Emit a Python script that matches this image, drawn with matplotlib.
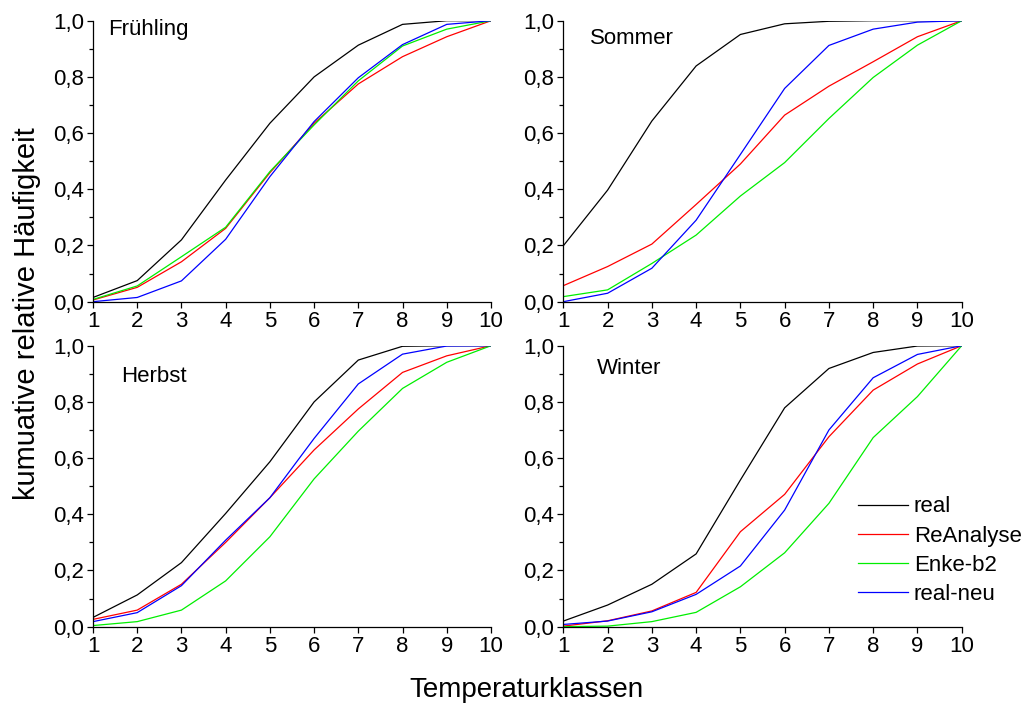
import matplotlib
matplotlib.use("Agg")
import matplotlib.pyplot as plt
from matplotlib.ticker import MultipleLocator, FuncFormatter

plt.rcParams['font.family'] = ['Liberation Sans', 'DejaVu Sans']

klassen = list(range(1, 11))
series_names = ["real", "ReAnalyse", "Enke-b2", "real-neu"]
colors = ["#000000", "#ff0000", "#00ee00", "#0000ff"]

fruehling = {
    "real":      [0.015, 0.075, 0.220, 0.433, 0.635, 0.800, 0.913, 0.987, 1.000, 1.000],
    "ReAnalyse": [0.006, 0.051, 0.142, 0.261, 0.459, 0.635, 0.775, 0.872, 0.943, 1.000],
    "Enke-b2":   [0.008, 0.056, 0.160, 0.265, 0.463, 0.629, 0.786, 0.910, 0.970, 1.000],
    "real-neu":  [0.000, 0.015, 0.074, 0.222, 0.445, 0.641, 0.797, 0.915, 0.987, 1.000],
}
sommer = {
    "real":      [0.199, 0.397, 0.643, 0.839, 0.951, 0.989, 0.998, 1.000, 1.000, 1.000],
    "ReAnalyse": [0.057, 0.125, 0.205, 0.346, 0.490, 0.664, 0.767, 0.854, 0.943, 1.000],
    "Enke-b2":   [0.018, 0.042, 0.136, 0.237, 0.376, 0.495, 0.652, 0.798, 0.913, 1.000],
    "real-neu":  [0.000, 0.030, 0.119, 0.290, 0.524, 0.759, 0.912, 0.970, 0.995, 1.000],
}
herbst = {
    "real":      [0.033, 0.113, 0.228, 0.403, 0.587, 0.800, 0.949, 0.998, 1.000, 1.000],
    "ReAnalyse": [0.026, 0.059, 0.151, 0.300, 0.459, 0.629, 0.775, 0.905, 0.964, 1.000],
    "Enke-b2":   [0.004, 0.018, 0.059, 0.163, 0.320, 0.526, 0.696, 0.848, 0.941, 1.000],
    "real-neu":  [0.018, 0.050, 0.146, 0.308, 0.459, 0.670, 0.864, 0.970, 0.999, 1.000],
}
winter = {
    "real":      [0.020, 0.077, 0.151, 0.259, 0.522, 0.779, 0.919, 0.976, 0.999, 1.000],
    "ReAnalyse": [0.002, 0.021, 0.056, 0.122, 0.338, 0.471, 0.676, 0.842, 0.935, 1.000],
    "Enke-b2":   [0.000, 0.002, 0.018, 0.051, 0.142, 0.263, 0.439, 0.673, 0.819, 1.000],
    "real-neu":  [0.008, 0.020, 0.053, 0.115, 0.216, 0.415, 0.700, 0.886, 0.969, 1.000],
}

panels = [
    ("Frühling", fruehling, [0.091, 0.5733, 0.3894, 0.3974], (0.038, 0.967)),
    ("Sommer",   sommer,    [0.5512, 0.5733, 0.3898, 0.3974], (0.068, 0.935)),
    ("Herbst",   herbst,    [0.091, 0.1136, 0.3894, 0.3974], (0.070, 0.892)),
    ("Winter",   winter,    [0.5512, 0.1136, 0.3898, 0.3974], (0.085, 0.920)),
]

fig = plt.figure(figsize=(10.22, 7.07), dpi=100)
comma = FuncFormatter(lambda v, p: f"{v:.1f}".replace(".", ","))

for name, data, rect, tpos in panels:
    ax = fig.add_axes(rect)
    for s, c in zip(series_names, colors):
        ax.plot(klassen, data[s], color=c, lw=0.9, label=s)
    ax.set_xlim(1, 10)
    ax.set_ylim(0, 1)
    ax.set_xticks(klassen)
    ax.yaxis.set_major_locator(MultipleLocator(0.2))
    ax.yaxis.set_minor_locator(MultipleLocator(0.1))
    ax.yaxis.set_major_formatter(comma)
    for sp in ("top", "right"):
        ax.spines[sp].set_visible(False)
    for sp in ("left", "bottom"):
        ax.spines[sp].set_linewidth(0.9)
    ax.tick_params(axis="both", which="major", direction="out", length=4.5,
                   width=0.9, labelsize=16, pad=2)
    ax.tick_params(axis="y", which="minor", direction="out", length=3, width=0.9)
    ax.text(tpos[0], tpos[1], name, transform=ax.transAxes, fontsize=16,
            ha="left", va="center")
    if name == "Winter":
        ax.legend(loc="center left", bbox_to_anchor=(0.74, 0.27), frameon=False,
                  fontsize=16, handlelength=2.25, handletextpad=0.25,
                  labelspacing=0.37, borderaxespad=0.0, borderpad=0.0)

fig.text(0.026, 0.556, "kumuative relative Häufigkeit", rotation=90,
         fontsize=21, ha="center", va="center")
fig.text(0.515, 0.024, "Temperaturklassen", fontsize=20, ha="center",
         va="center")

fig.savefig("out.png", dpi=100)
